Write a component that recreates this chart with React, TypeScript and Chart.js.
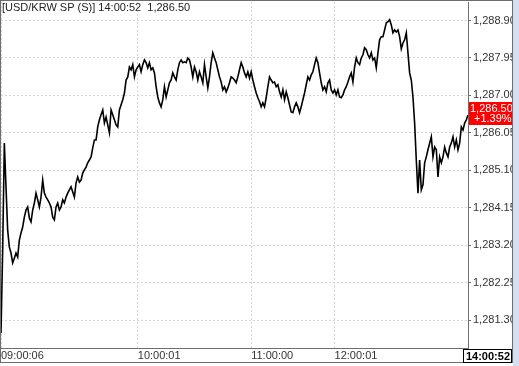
import React, { useEffect, useRef } from "react";
import { Chart, registerables } from "chart.js";

Chart.register(...registerables);

const prices: number[] = [
  1280.97, 1283.08, 1285.79, 1284.68, 1283.58, 1283.15, 1283.00, 1282.75, 1282.87, 1283.00,
  1282.90, 1283.33, 1283.51, 1283.66, 1283.91, 1284.09, 1284.17, 1283.89, 1283.79, 1284.09,
  1284.27, 1284.52, 1284.35, 1284.17, 1284.42, 1284.85, 1284.52, 1284.42, 1284.35, 1284.27,
  1284.17, 1283.91, 1283.84, 1284.17, 1284.27, 1284.09, 1284.17, 1284.35, 1284.27, 1284.42,
  1284.52, 1284.60, 1284.68, 1284.55, 1284.42, 1284.78, 1284.93, 1284.80, 1284.85, 1285.03,
  1285.11, 1285.18, 1285.29, 1285.36, 1285.44, 1285.67, 1285.87, 1285.87, 1286.20, 1286.38,
  1286.51, 1286.63, 1286.30, 1286.45, 1286.25, 1286.05, 1286.63, 1286.51, 1286.38, 1286.25,
  1286.20, 1286.63, 1286.76, 1286.89, 1287.06, 1287.39, 1287.47, 1287.72, 1287.65, 1287.78,
  1287.47, 1287.65, 1287.72, 1287.78, 1287.60, 1287.78, 1287.90, 1287.83, 1287.70, 1287.83,
  1287.65, 1287.70, 1287.57, 1287.22, 1286.96, 1286.81, 1286.71, 1286.89, 1287.22, 1286.96,
  1287.14, 1287.32, 1287.39, 1287.57, 1287.47, 1287.39, 1287.65, 1287.83, 1287.90, 1287.83,
  1287.85, 1287.83, 1287.95, 1287.90, 1287.72, 1287.47, 1287.72, 1287.60, 1287.39, 1287.60,
  1287.47, 1287.32, 1287.78, 1287.47, 1287.19, 1287.47, 1287.83, 1288.08, 1287.95, 1287.83,
  1287.65, 1287.47, 1287.34, 1287.14, 1287.22, 1287.09, 1287.19, 1287.32, 1287.47, 1287.44,
  1287.39, 1287.32, 1287.47, 1287.65, 1287.83, 1287.72, 1287.57, 1287.47, 1287.60, 1287.44,
  1287.60, 1287.39, 1287.22, 1287.06, 1286.94, 1286.84, 1286.71, 1286.81, 1286.71, 1286.94,
  1287.22, 1287.47, 1287.39, 1287.32, 1287.34, 1287.22, 1287.27, 1287.09, 1286.96, 1287.14,
  1286.89, 1287.09, 1286.94, 1286.76, 1286.58, 1286.56, 1286.71, 1286.81, 1286.71, 1286.56,
  1286.71, 1286.89, 1287.06, 1287.27, 1287.47, 1287.39, 1287.52, 1287.60, 1287.78, 1287.95,
  1287.83, 1287.57, 1287.32, 1287.14, 1287.22, 1287.09, 1287.32, 1287.39, 1287.14, 1287.06,
  1287.14, 1287.01, 1287.14, 1286.96, 1286.94, 1287.01, 1287.14, 1287.22, 1287.34, 1287.47,
  1287.57, 1287.34, 1287.72, 1287.95, 1287.83, 1287.78, 1287.95, 1288.03, 1288.21, 1288.16,
  1288.03, 1287.95, 1288.08, 1287.90, 1287.95, 1287.70, 1288.08, 1288.41, 1288.49, 1288.49,
  1288.66, 1288.84, 1288.87, 1288.92, 1288.79, 1288.59, 1288.66, 1288.61, 1288.66, 1288.49,
  1288.18, 1288.33, 1288.41, 1288.59, 1288.08, 1287.57, 1287.39, 1286.96, 1286.30, 1285.36,
  1284.52, 1285.36, 1284.60, 1284.73, 1285.29, 1285.44, 1285.62, 1285.79, 1285.95, 1285.44,
  1285.69, 1285.62, 1284.93, 1285.44, 1285.29, 1285.44, 1285.69, 1285.54, 1285.44, 1285.69,
  1285.79, 1285.95, 1285.69, 1285.87, 1285.62, 1285.79, 1286.20, 1286.12, 1286.30, 1286.38,
  1286.50,
];

const xTickIndex: number[] = [0, 82, 150, 200];
const xTickLabels: string[] = ["09:00:06", "10:00:01", "11:00:00", "12:00:01"];
const yTicks: number[] = [1281.3, 1282.25, 1283.2, 1284.15, 1285.1, 1286.05, 1287.0, 1287.95, 1288.9];
const yMin = 1280.59;
const yMax = 1289.37;

const titleText = "[USD/KRW SP (S)] 14:00:52  1,286.50";
const lastTime = "14:00:52";
const lastPrice = 1286.5;
const changePct = "+1.39%";

const FONT = "'Liberation Sans', Arial, sans-serif";

const fmt = (v: number) =>
  v.toLocaleString("en-US", { minimumFractionDigits: 2, maximumFractionDigits: 2 });

const overlay = {
  id: "overlay",
  beforeDraw(chart: any) {
    const { ctx, width, height } = chart;
    ctx.save();
    ctx.fillStyle = "#ffffff";
    ctx.fillRect(0, 0, width, height);
    ctx.restore();
  },
  afterDraw(chart: any) {
    const { ctx, chartArea: ca, scales, width, height } = chart;
    ctx.save();
    const py = Math.round(scales.y.getPixelForValue(lastPrice));
    ctx.fillStyle = "#ff0000";
    ctx.fillRect(ca.right + 1, py - 13, 44, 23);
    ctx.fillStyle = "#ffffff";
    ctx.font = `11px ${FONT}`;
    ctx.textAlign = "left";
    ctx.textBaseline = "middle";
    ctx.fillText(fmt(lastPrice), ca.right + 2, py - 6);
    ctx.fillText(changePct, ca.right + 6, py + 4);

    ctx.fillStyle = "#d5dff3";
    ctx.fillRect(513, 0, width - 513, height);

    ctx.strokeStyle = "#6e6e6e";
    ctx.lineWidth = 1;
    ctx.strokeRect(0.5, 0.5, 512, 362);

    ctx.fillStyle = "#ffffff";
    ctx.fillRect(463, 350, 48, 12);
    ctx.strokeStyle = "#000000";
    ctx.strokeRect(463.5, 349.5, 48, 13);
    ctx.fillStyle = "#000000";
    ctx.font = `bold 11px ${FONT}`;
    ctx.textAlign = "right";
    ctx.textBaseline = "middle";
    ctx.fillText(lastTime, 510, 356.5);

    ctx.font = `11px ${FONT}`;
    ctx.textAlign = "left";
    ctx.textBaseline = "top";
    ctx.fillStyle = "#222222";
    ctx.fillText(titleText, 2, 2);
    ctx.restore();
  },
};

export default function App() {
  const ref = useRef<HTMLCanvasElement | null>(null);

  useEffect(() => {
    document.body.style.margin = "0";
    const canvas = ref.current;
    if (!canvas) return;
    Chart.defaults.font.family = FONT;
    Chart.defaults.font.size = 11;

    const chart = new Chart(canvas, {
      type: "line",
      data: {
        datasets: [
          {
            data: prices.map((v, i) => ({ x: i, y: v })),
            borderColor: "#000000",
            borderWidth: 1.6,
            pointRadius: 0,
            tension: 0,
            fill: false,
          },
        ],
      },
      options: {
        animation: false,
        responsive: false,
        maintainAspectRatio: false,
        layout: { padding: { left: 1, top: 2, right: 7, bottom: 4 } },
        plugins: {
          legend: { display: false },
          tooltip: { enabled: false },
          title: { display: false },
        },
        scales: {
          x: {
            type: "linear",
            position: "bottom",
            min: 0,
            max: prices.length - 1,
            afterBuildTicks: (scale: any) => {
              scale.ticks = xTickIndex.map((v) => ({ value: v }));
            },
            afterFit: (scale: any) => {
              scale.height = 14;
              scale.paddingLeft = 0;
              scale.paddingRight = 0;
            },
            ticks: {
              autoSkip: false,
              maxRotation: 0,
              minRotation: 0,
              align: "start",
              padding: 1,
              color: "#333333",
              font: { size: 11, family: FONT },
              callback: (_v: any, i: number) => xTickLabels[i],
            },
            grid: {
              display: true,
              drawOnChartArea: true,
              drawTicks: false,
              color: "#d6d6d6",
              lineWidth: 1,
            },
            border: { display: true, color: "#6e6e6e", width: 1, dash: [2, 2] },
          },
          y: {
            type: "linear",
            position: "right",
            min: yMin,
            max: yMax,
            afterBuildTicks: (scale: any) => {
              scale.ticks = yTicks.map((v) => ({ value: v }));
            },
            afterFit: (scale: any) => {
              scale.width = 44;
              scale.paddingTop = 0;
              scale.paddingBottom = 0;
            },
            ticks: {
              autoSkip: false,
              padding: 2,
              color: "#333333",
              font: { size: 11, family: FONT },
              callback: (v: any) => fmt(Number(v)),
            },
            grid: {
              display: true,
              drawOnChartArea: true,
              drawTicks: true,
              tickLength: 3,
              tickColor: "#6e6e6e",
              color: "#d6d6d6",
              lineWidth: 1,
            },
            border: { display: true, color: "#6e6e6e", width: 1, dash: [2, 2] },
          },
        },
      },
      plugins: [overlay],
    });
    return () => chart.destroy();
  }, []);

  return (
    <div style={{ position: "fixed", left: 0, top: 0, width: 519, height: 366 }}>
      <canvas ref={ref} width={519} height={366} style={{ display: "block" }} />
    </div>
  );
}
